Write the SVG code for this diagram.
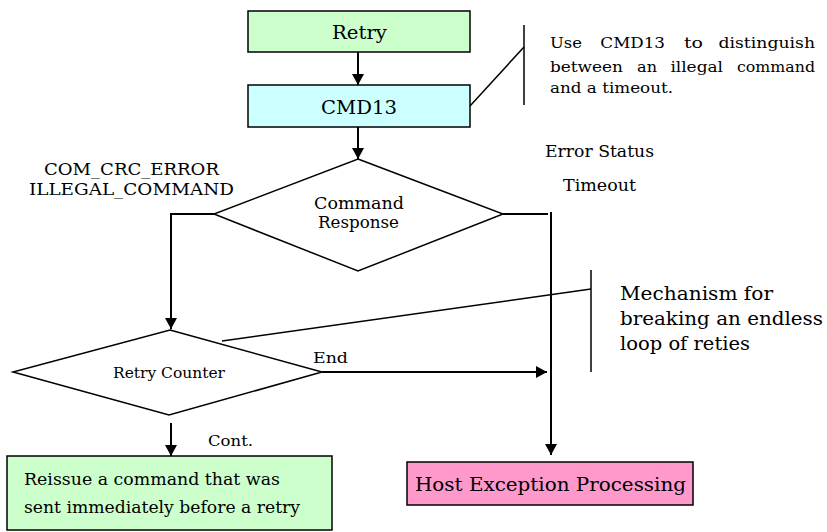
<svg xmlns="http://www.w3.org/2000/svg" width="827" height="532" viewBox="0 0 827 532">
<defs>
<marker id="ah" markerUnits="userSpaceOnUse" markerWidth="12" markerHeight="12" refX="11" refY="6" orient="auto">
<path d="M0,0 L11,6 L0,12 Z" fill="#000"/>
</marker>
<style>
text{font-family:"DejaVu Serif","Liberation Serif","Noto Serif",serif;fill:#000}
.box{stroke:#000;stroke-width:1.5}
.dia{fill:#fff;stroke:#000;stroke-width:1.5}
.con{fill:none;stroke:#000;stroke-width:2}
.arr{fill:none;stroke:#000;stroke-width:2;marker-end:url(#ah)}
.note{fill:none;stroke:#000;stroke-width:1.5}
</style>
</defs>
<rect width="827" height="532" fill="#fff"/>

<g id="connectors">
<line class="arr" x1="358" y1="52" x2="358" y2="85"/>
<line class="arr" x1="358" y1="127" x2="358" y2="159"/>
<polyline class="arr" points="214,214 171,214 171,329"/>
<line class="con" x1="503" y1="214" x2="548" y2="214"/>
<line class="arr" x1="551" y1="212" x2="551" y2="455"/>
<line class="arr" x1="322" y1="372" x2="547" y2="372"/>
<line class="arr" x1="171" y1="423" x2="171" y2="456"/>
</g>

<g id="retry">
<rect class="box" x="248" y="11" width="222" height="41" fill="#ccffcc"/>
<text x="332" y="39" font-size="19" textLength="55" lengthAdjust="spacingAndGlyphs">Retry</text>
</g>

<g id="cmd13">
<rect class="box" x="248" y="85" width="222" height="42" fill="#ccffff"/>
<text x="321" y="114" font-size="19" textLength="76" lengthAdjust="spacingAndGlyphs">CMD13</text>
</g>

<g id="note-cmd13">
<line class="note" x1="524" y1="25" x2="524" y2="105"/>
<line class="note" x1="470" y1="106" x2="524" y2="47"/>
<text y="48" font-size="15"><tspan x="550" textLength="32" lengthAdjust="spacingAndGlyphs">Use</tspan><tspan x="595" textLength="70" lengthAdjust="spacingAndGlyphs"> CMD13</tspan><tspan x="678" textLength="25" lengthAdjust="spacingAndGlyphs"> to</tspan><tspan x="713" textLength="102" lengthAdjust="spacingAndGlyphs"> distinguish</tspan></text>
<text y="72" font-size="15"><tspan x="550" textLength="73" lengthAdjust="spacingAndGlyphs">between</tspan><tspan x="632" textLength="25" lengthAdjust="spacingAndGlyphs"> an</tspan><tspan x="665" textLength="58" lengthAdjust="spacingAndGlyphs"> illegal</tspan><tspan x="732" textLength="83" lengthAdjust="spacingAndGlyphs"> command</tspan></text>
<text x="550" y="93" font-size="15" textLength="123" lengthAdjust="spacingAndGlyphs">and a timeout.</text>
</g>

<g id="command-response">
<polygon class="dia" points="358,159 503,214 358,271 214,214"/>
<text x="314" y="209" font-size="16" textLength="90" lengthAdjust="spacingAndGlyphs">Command</text>
<text x="318" y="228" font-size="16" textLength="81" lengthAdjust="spacingAndGlyphs">Response</text>
</g>

<g id="labels">
<text x="44" y="175" font-size="17" textLength="175" lengthAdjust="spacingAndGlyphs">COM_CRC_ERROR</text>
<text x="29" y="195" font-size="17" textLength="205" lengthAdjust="spacingAndGlyphs">ILLEGAL_COMMAND</text>
<text x="545" y="157" font-size="16" textLength="109" lengthAdjust="spacingAndGlyphs">Error Status</text>
<text x="563" y="191" font-size="16" textLength="73" lengthAdjust="spacingAndGlyphs">Timeout</text>
<text x="313" y="363" font-size="14" textLength="35" lengthAdjust="spacingAndGlyphs">End</text>
<text x="208" y="446" font-size="14" textLength="45" lengthAdjust="spacingAndGlyphs">Cont.</text>
</g>

<g id="retry-counter">
<polygon class="dia" points="170,330 322,372 169,415 13,372"/>
<text x="113" y="378" font-size="14" textLength="112" lengthAdjust="spacingAndGlyphs">Retry Counter</text>
</g>

<g id="note-mechanism">
<line class="note" x1="591" y1="270" x2="591" y2="372"/>
<line class="note" x1="591" y1="289" x2="222" y2="341"/>
<text x="620" y="300" font-size="18" textLength="153" lengthAdjust="spacingAndGlyphs">Mechanism for</text>
<text x="620" y="325" font-size="18" textLength="203" lengthAdjust="spacingAndGlyphs">breaking an endless</text>
<text x="620" y="350" font-size="18" textLength="130" lengthAdjust="spacingAndGlyphs">loop of reties</text>
</g>

<g id="reissue">
<rect class="box" x="7" y="456" width="325" height="74" fill="#ccffcc"/>
<text x="24" y="485" font-size="16" textLength="256" lengthAdjust="spacingAndGlyphs">Reissue a command that was</text>
<text x="24" y="513" font-size="16" textLength="276" lengthAdjust="spacingAndGlyphs">sent immediately before a retry</text>
</g>

<g id="host-exception">
<rect class="box" x="407" y="462" width="286" height="43" fill="#ff99cc"/>
<text x="415" y="491" font-size="19" textLength="271" lengthAdjust="spacingAndGlyphs">Host Exception Processing</text>
</g>
</svg>
